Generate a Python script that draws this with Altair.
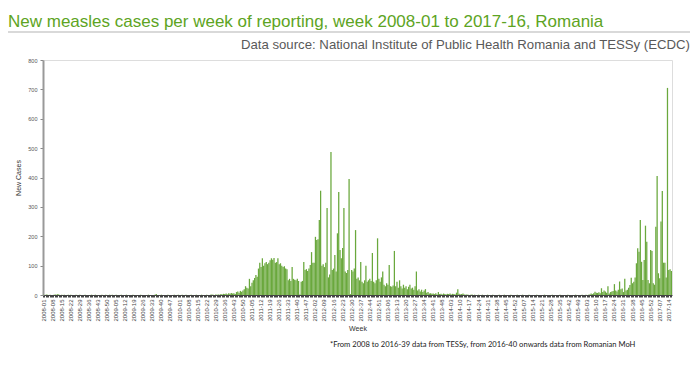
import altair as alt
import pandas as pd

TITLE = "New measles cases per week of reporting, week 2008-01 to 2017-16, Romania"
SUBTITLE = "Data source: National Institute of Public Health Romania and TESSy (ECDC)"
FOOTNOTE = "*From 2008 to 2016-39 data from TESSy,  from 2016-40 onwards data from Romanian MoH"

years = [2008, 2009, 2010, 2011, 2012, 2013, 2014, 2015, 2016, 2017]
weeks_in_year = [52, 53, 52, 52, 52, 52, 52, 53, 52, 16]

y2008 = [1, 0, 2, 1, 0, 1, 0, 0, 1, 2,
         1, 3, 1, 0, 1, 0, 1, 0, 0, 1,
         0, 1, 0, 0, 0, 1, 0, 0, 1, 0,
         0, 0, 1, 0, 0, 0, 0, 1, 0, 0,
         1, 0, 0, 0, 0, 1, 0, 0, 1, 0,
         0, 1]
y2009 = [0, 1, 0, 0, 1, 0, 0, 0, 1, 0,
         0, 0, 1, 0, 0, 0, 0, 1, 0, 0,
         0, 0, 0, 1, 0, 0, 0, 0, 0, 1,
         0, 0, 0, 0, 1, 3, 0, 0, 0, 1,
         0, 0, 0, 0, 1, 0, 0, 0, 0, 1,
         0, 0, 1]
y2010 = [0, 0, 1, 0, 0, 1, 0, 0, 0, 1,
         0, 0, 0, 1, 0, 0, 0, 1, 0, 0,
         0, 1, 0, 0, 1, 2, 1, 0, 2, 1,
         2, 1, 3, 2, 4, 3, 5, 2, 6, 4,
         7, 5, 6, 3, 10, 12, 8, 14, 11, 15,
         20, 30]
y2011 = [25, 22, 55, 30, 42, 50, 58, 68, 62, 90,
         110, 95, 125, 100, 108, 112, 105, 110, 118, 125,
         120, 126, 110, 112, 125, 105, 108, 100, 95, 98,
         90, 88, 50, 55, 48, 95, 55, 52, 50, 55,
         48, 2, 45, 48, 112, 85, 88, 82, 90, 102,
         146, 110]
y2012 = [110, 198, 187, 190, 255, 355, 100, 105, 95, 110,
         296, 60, 70, 487, 85, 90, 136, 80, 210, 351,
         153, 125, 160, 296, 80, 75, 85, 395, 3, 85,
         80, 90, 221, 55, 60, 50, 112, 45, 40, 50,
         100, 45, 50, 55, 48, 143, 45, 40, 50, 193,
         55, 45]
y2013 = [60, 80, 35, 30, 40, 35, 102, 30, 28, 32,
         150, 30, 45, 25, 50, 30, 22, 35, 25, 30,
         20, 28, 35, 22, 25, 18, 30, 80, 15, 20,
         12, 18, 10, 15, 20, 8, 10, 5, 6, 4,
         5, 3, 6, 2, 10, 3, 4, 2, 5, 3,
         2, 4]
y2014 = [3, 5, 2, 4, 3, 2, 8, 20, 4, 2,
         3, 5, 2, 1, 2, 1, 0, 1, 2, 0,
         1, 0, 0, 1, 0, 0, 1, 0, 0, 0,
         1, 0, 0, 0, 1, 0, 0, 0, 0, 1,
         0, 0, 0, 1, 0, 0, 0, 0, 1, 0,
         0, 0]
y2015 = [0, 1, 0, 0, 0, 1, 0, 0, 0, 0,
         1, 0, 0, 0, 0, 0, 1, 0, 0, 0,
         0, 0, 1, 0, 0, 0, 0, 0, 1, 0,
         0, 0, 0, 0, 1, 0, 0, 0, 0, 0,
         1, 0, 0, 0, 0, 0, 1, 0, 0, 0,
         0, 1, 0]
y2016 = [0, 1, 0, 1, 2, 5, 3, 6, 11, 8,
         7, 9, 6, 23, 10, 15, 12, 8, 30, 5,
         10, 12, 14, 37, 15, 12, 18, 46, 20, 22,
         10, 55, 15, 18, 25, 34, 59, 40, 45, 60,
         108, 159, 147, 255, 113, 51, 119, 236, 181, 51,
         40, 153]
y2017 = [150, 40, 35, 232, 405, 74, 57, 250, 354, 110,
         110, 60, 705, 85, 88, 82]

series = [y2008, y2009, y2010, y2011, y2012, y2013, y2014, y2015, y2016, y2017]

weeks = []
cases = []
for yr, n, vals in zip(years, weeks_in_year, series):
    assert len(vals) == n, (yr, len(vals))
    for w in range(1, n + 1):
        weeks.append(f"{yr}-{w:02d}")
    cases.extend(vals)

df = pd.DataFrame({"week": weeks, "cases": cases})
label_weeks = weeks[::7]
label_str = "|" + "|".join(label_weeks) + "|"

W, H = 629, 235
GREEN = "#6AA83D"

bars = alt.Chart(df).mark_bar(color=GREEN).encode(
    x=alt.X("week:N", sort=None,
            scale=alt.Scale(paddingInner=0.02, paddingOuter=0),
            axis=alt.Axis(
                title="Week",
                labelExpr=f"indexof('{label_str}', '|' + datum.value + '|') >= 0 ? datum.value : ''",
                labelAngle=-90, labelFontSize=6, labelColor="#444",
                labelOverlap=False, labelPadding=2,
                tickSize=2, tickColor="#444", domainColor="#444",
                titleFontSize=7, titleFontWeight="normal", titleColor="#333",
                titlePadding=3)),
    y=alt.Y("cases:Q",
            scale=alt.Scale(domain=[0, 800], nice=False),
            axis=alt.Axis(
                title="New Cases", values=list(range(0, 801, 100)),
                grid=False, labelFontSize=5.5, labelColor="#555",
                tickSize=3, tickColor="#888", domainColor="#999", domainWidth=2,
                labelPadding=3,
                titleFontSize=7, titleFontWeight="normal", titleColor="#333",
                titlePadding=6)),
)

one = pd.DataFrame({"t": [TITLE], "s": [SUBTITLE], "f": [FOOTNOTE]})

title = alt.Chart(one).mark_text(
    align="left", baseline="alphabetic", font="Liberation Sans",
    fontSize=17, color="#5DA423").encode(
    x=alt.value(-35), y=alt.value(-33), text="t:N")

line = alt.Chart(one).mark_rule(color="#D9D9D9", strokeWidth=2).encode(
    x=alt.value(-35), x2=alt.value(647), y=alt.value(-28))

subtitle = alt.Chart(one).mark_text(
    align="right", baseline="alphabetic", font="Liberation Sans",
    fontSize=13.2, color="#595959").encode(
    x=alt.value(647), y=alt.value(-11), text="s:N")

foot = alt.Chart(one).mark_text(
    align="left", baseline="alphabetic", font="Lato",
    fontSize=7.6, color="#222").encode(
    x=alt.value(287), y=alt.value(287), text="f:N")

chart = alt.layer(bars, title, line, subtitle, foot).properties(
    width=W, height=H,
    autosize=alt.AutoSizeParams(type="none"),
    padding={"left": 35, "top": 52, "right": 20, "bottom": 72},
).configure_view(stroke=None).configure(font="Liberation Sans")

chart.save("out.html", embed_options={"renderer": "svg", "actions": False})
